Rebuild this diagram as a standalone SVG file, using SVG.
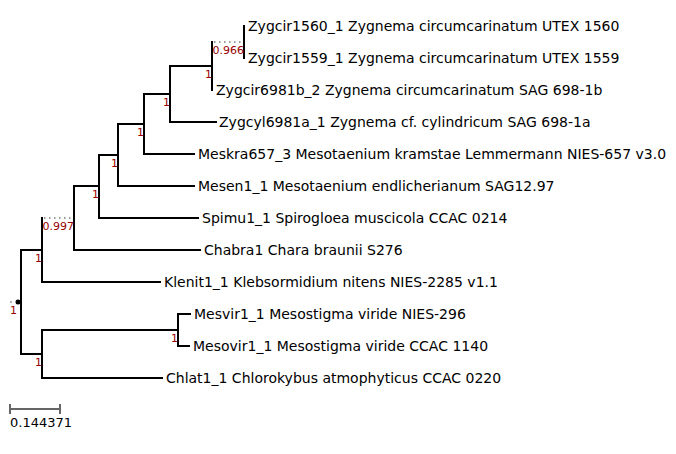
<svg xmlns="http://www.w3.org/2000/svg" width="676" height="454" viewBox="0 0 676 454">
<style>
.br{stroke:#000;stroke-width:2;fill:none;stroke-linecap:square}
.dot{stroke:#999;stroke-width:2;fill:none;stroke-dasharray:1.5 3.5}
.tip{font-family:"DejaVu Sans",sans-serif;font-size:14px;fill:#000}
.lbl{font-family:"DejaVu Sans",sans-serif;font-size:13px;fill:#000}
.sup{font-family:"DejaVu Sans",sans-serif;font-size:11px;fill:#990000;text-anchor:end}
.scale{stroke:#666;stroke-width:2;fill:none}
</style>
<rect width="676" height="454" fill="#fff"/>
<g id="connectors">
<path class="br" d="M244,26V58"/>
<path class="dot" d="M214,42H242"/>
<path class="br" d="M212,42V90"/>
<path class="br" d="M170,66H212"/>
<path class="br" d="M170,66V122M170,122H216"/>
<path class="br" d="M144,94H170M144,94V154M144,154H194"/>
<path class="br" d="M118,124H144M118,124V186M118,186H194"/>
<path class="br" d="M99,155H118M99,155V218M99,218H198"/>
<path class="br" d="M74,186H99M74,186V250M74,250H200"/>
<path class="dot" d="M44,218H72"/>
<path class="br" d="M42,218V282M42,282H160"/>
<path class="br" d="M21,250H42M21,250V354M21,354H42"/>
<path class="br" d="M42,330V378M42,378H162M42,330H178"/>
<path class="br" d="M178,314V346M178,314H190M178,346H189"/>
</g>
<g id="root"><circle cx="18" cy="302" r="2.5" fill="#000"/><circle cx="11" cy="302" r="1" fill="#999"/></g>
<g id="supports">
<text class="sup" x="244" y="54">0.966</text>
<text class="sup" x="212" y="78">1</text>
<text class="sup" x="170" y="106">1</text>
<text class="sup" x="144" y="136">1</text>
<text class="sup" x="118" y="167">1</text>
<text class="sup" x="99" y="198">1</text>
<text class="sup" x="74" y="230">0.997</text>
<text class="sup" x="42" y="262">1</text>
<text class="sup" x="17" y="314">1</text>
<text class="sup" x="178" y="342">1</text>
<text class="sup" x="42" y="366">1</text>
</g>
<g id="tips">
<g id="n1"><text class="tip" x="248" y="31">Zygcir1560_1 Zygnema circumcarinatum UTEX 1560</text></g>
<g id="n2"><text class="tip" x="248" y="63">Zygcir1559_1 Zygnema circumcarinatum UTEX 1559</text></g>
<g id="n3"><text class="tip" x="216" y="95">Zygcir6981b_2 Zygnema circumcarinatum SAG 698-1b</text></g>
<g id="n4"><text class="tip" x="219" y="127">Zygcyl6981a_1 Zygnema cf. cylindricum SAG 698-1a</text></g>
<g id="n5"><text class="tip" x="198" y="159">Meskra657_3 Mesotaenium kramstae Lemmermann NIES-657 v3.0</text></g>
<g id="n6"><text class="tip" x="198" y="191">Mesen1_1 Mesotaenium endlicherianum SAG12.97</text></g>
<g id="n7"><text class="tip" x="202" y="223">Spimu1_1 Spirogloea muscicola CCAC 0214</text></g>
<g id="n8"><text class="tip" x="204" y="255">Chabra1 Chara braunii S276</text></g>
<g id="n9"><text class="tip" x="164" y="287">Klenit1_1 Klebsormidium nitens NIES-2285 v1.1</text></g>
<g id="n10"><text class="tip" x="194" y="319">Mesvir1_1 Mesostigma viride NIES-296</text></g>
<g id="n11"><text class="tip" x="193" y="351">Mesovir1_1 Mesostigma viride CCAC 1140</text></g>
<g id="n12"><text class="tip" x="166" y="383">Chlat1_1 Chlorokybus atmophyticus CCAC 0220</text></g>
</g>
<g id="scalebar">
<path class="scale" d="M10,409H60M10,404V414M60,404V414"/>
<text class="lbl" x="10" y="427">0.144371</text>
</g>
</svg>
